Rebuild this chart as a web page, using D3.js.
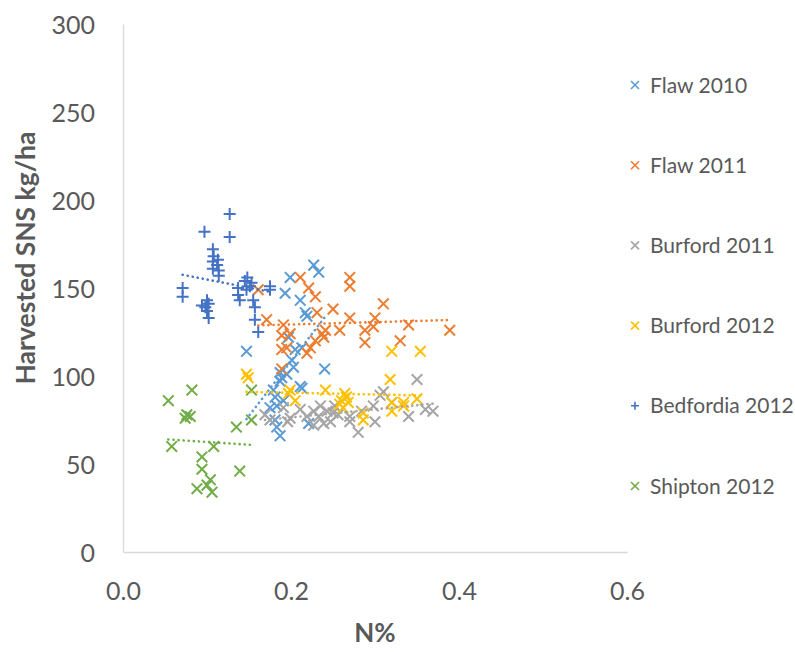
<!DOCTYPE html>
<html><head><meta charset="utf-8">
<script src="https://cdn.jsdelivr.net/npm/d3@7"></script>
<style>body{margin:0;background:#fff}svg{display:block}</style>
</head><body><svg id="c" width="795" height="652"></svg>
<script>
const seriesNames = ["Flaw 2010","Flaw 2011","Burford 2011","Burford 2012","Bedfordia 2012","Shipton 2012"];
const seriesColors = ["#5B9BD5","#ED7D31","#A5A5A5","#FFC000","#4472C4","#70AD47"];
const seriesMarkers = ["x","x","x","x","plus","x"];
const xTicks = [0.0,0.2,0.4,0.6];
const yTicks = [0,50,100,150,200,250,300];

const flaw2010 = [[0.227,163],[0.233,159],[0.199,156],[0.193,147],[0.211,143],[0.217,136],[0.219,134],[0.197,122],[0.205,115],[0.213,116],[0.147,114],[0.201,109],[0.203,105],[0.187,102],[0.195,101],[0.189,99],[0.240,104],[0.187,97],[0.179,92],[0.213,93],[0.181,88],[0.191,86],[0.175,82],[0.183,83],[0.181,75],[0.183,71],[0.187,66],[0.221,73],[0.211,94]];
const flaw2011 = [[0.270,156],[0.270,151],[0.211,156],[0.221,150],[0.229,145],[0.231,136],[0.250,138],[0.310,141],[0.270,133],[0.300,133],[0.298,128],[0.288,126],[0.258,126],[0.241,126],[0.237,124],[0.239,122],[0.340,129],[0.389,126],[0.288,119],[0.330,120],[0.229,120],[0.199,124],[0.191,129],[0.171,132],[0.195,116],[0.189,115],[0.223,116],[0.219,113],[0.189,104],[0.161,149],[0.189,123]];
const burford2011 = [[0.350,98],[0.310,91],[0.306,89],[0.369,80],[0.360,81],[0.340,77],[0.298,83],[0.270,77],[0.235,83],[0.191,82],[0.199,76],[0.219,77],[0.227,80],[0.233,77],[0.243,80],[0.250,79],[0.239,73],[0.227,72],[0.247,74],[0.256,78],[0.252,83],[0.270,74],[0.284,80],[0.300,74],[0.280,68],[0.175,75],[0.169,78],[0.211,81],[0.320,85],[0.196,74]];
const burford2012 = [[0.320,114],[0.354,114],[0.318,98],[0.147,101],[0.149,99],[0.199,92],[0.197,90],[0.241,92],[0.260,86],[0.266,88],[0.258,84],[0.262,82],[0.286,79],[0.286,75],[0.320,85],[0.334,85],[0.334,83],[0.350,87],[0.320,80],[0.205,86],[0.264,90],[0.268,85]];
const bedfordia2012 = [[0.127,192],[0.097,182],[0.127,179],[0.107,172],[0.108,168],[0.113,166],[0.107,165],[0.112,163],[0.107,161],[0.114,160],[0.114,157],[0.071,150],[0.071,145],[0.100,143],[0.094,140],[0.098,139],[0.102,141],[0.100,137],[0.102,133],[0.148,156],[0.145,154],[0.153,153],[0.137,150],[0.147,149],[0.151,151],[0.137,146],[0.139,143],[0.157,139],[0.155,143],[0.157,132],[0.161,125],[0.175,151],[0.175,149]];
const shipton2012 = [[0.082,92],[0.054,86],[0.076,78],[0.080,77],[0.074,76],[0.135,71],[0.153,75],[0.153,92],[0.058,60],[0.108,60],[0.094,54],[0.094,47],[0.139,46],[0.104,41],[0.088,36],[0.106,34],[0.100,38]];
const allSeries = [flaw2010, flaw2011, burford2011, burford2012, bedfordia2012, shipton2012];

const svg = d3.select("#c");
const x = d3.scaleLinear().domain([0,0.6]).range([123,627]);
const y = d3.scaleLinear().domain([0,300]).range([552,24]);
const FONT = "Lato, 'Open Sans', sans-serif";
const TXT = "#595959";

// axes
const xAxis = svg.append("g").attr("transform","translate(0,552)")
  .call(d3.axisBottom(x).tickValues(xTicks).tickFormat(d3.format(".1f")).tickSize(0).tickPadding(30));
const yAxis = svg.append("g").attr("transform","translate(123,0)")
  .call(d3.axisLeft(y).tickValues(yTicks).tickSize(0).tickPadding(28));
[xAxis,yAxis].forEach(a=>{
  a.select(".domain").attr("stroke","#D9D9D9").attr("stroke-width",1.3);
  a.selectAll("text").attr("fill",TXT).style("font-family",FONT).style("font-size","25px");
});
yAxis.selectAll("text").attr("dy","0.36em");

svg.append("text").attr("x",375).attr("y",642).attr("text-anchor","middle")
  .attr("fill",TXT).style("font-family",FONT).style("font-size","26px").style("font-weight","bold").text("N%");
svg.append("text").attr("transform","translate(35,258) rotate(-90)").attr("text-anchor","middle")
  .attr("fill",TXT).style("font-family",FONT).style("font-size","26.5px").style("font-weight","bold").text("Harvested SNS kg/ha");

function markerPath(type, s){
  return type==="plus" ? `M${-s},0L${s},0M0,${-s}L0,${s}` : `M${-s},${-s}L${s},${s}M${-s},${s}L${s},${-s}`;
}

allSeries.forEach((data,i)=>{
  svg.append("g").selectAll("path").data(data).join("path")
    .attr("transform",d=>`translate(${x(d[0])},${y(d[1])})`)
    .attr("d",markerPath(seriesMarkers[i], seriesMarkers[i]==="plus"?6:5.3))
    .attr("fill","none").attr("stroke",seriesColors[i]).attr("stroke-width",2);
});

// linear trendlines
allSeries.forEach((data,i)=>{
  const mx = d3.mean(data,d=>d[0]), my = d3.mean(data,d=>d[1]);
  const sxy = d3.sum(data,d=>(d[0]-mx)*(d[1]-my)), sxx = d3.sum(data,d=>(d[0]-mx)**2);
  const b = sxy/sxx, a = my - b*mx;
  const [x0,x1] = d3.extent(data,d=>d[0]);
  svg.append("line").attr("x1",x(x0)).attr("x2",x(x1)).attr("y1",y(a+b*x0)).attr("y2",y(a+b*x1))
    .attr("stroke",seriesColors[i]).attr("stroke-width",2.6).attr("stroke-linecap","round")
    .attr("stroke-dasharray","0.1 5");
});

// legend
const legY = d3.scalePoint().domain(seriesNames).range([85,486]);
const leg = svg.append("g").selectAll("g").data(seriesNames).join("g")
  .attr("transform",d=>`translate(635,${legY(d)})`);
leg.append("path").attr("d",(d,i)=>markerPath(seriesMarkers[i],4)).attr("fill","none")
  .attr("stroke",(d,i)=>seriesColors[i]).attr("stroke-width",1.6);
leg.append("text").attr("x",15).attr("dy","0.36em").attr("fill",TXT)
  .style("font-family",FONT).style("font-size","21px").text(d=>d);
</script></body></html>
